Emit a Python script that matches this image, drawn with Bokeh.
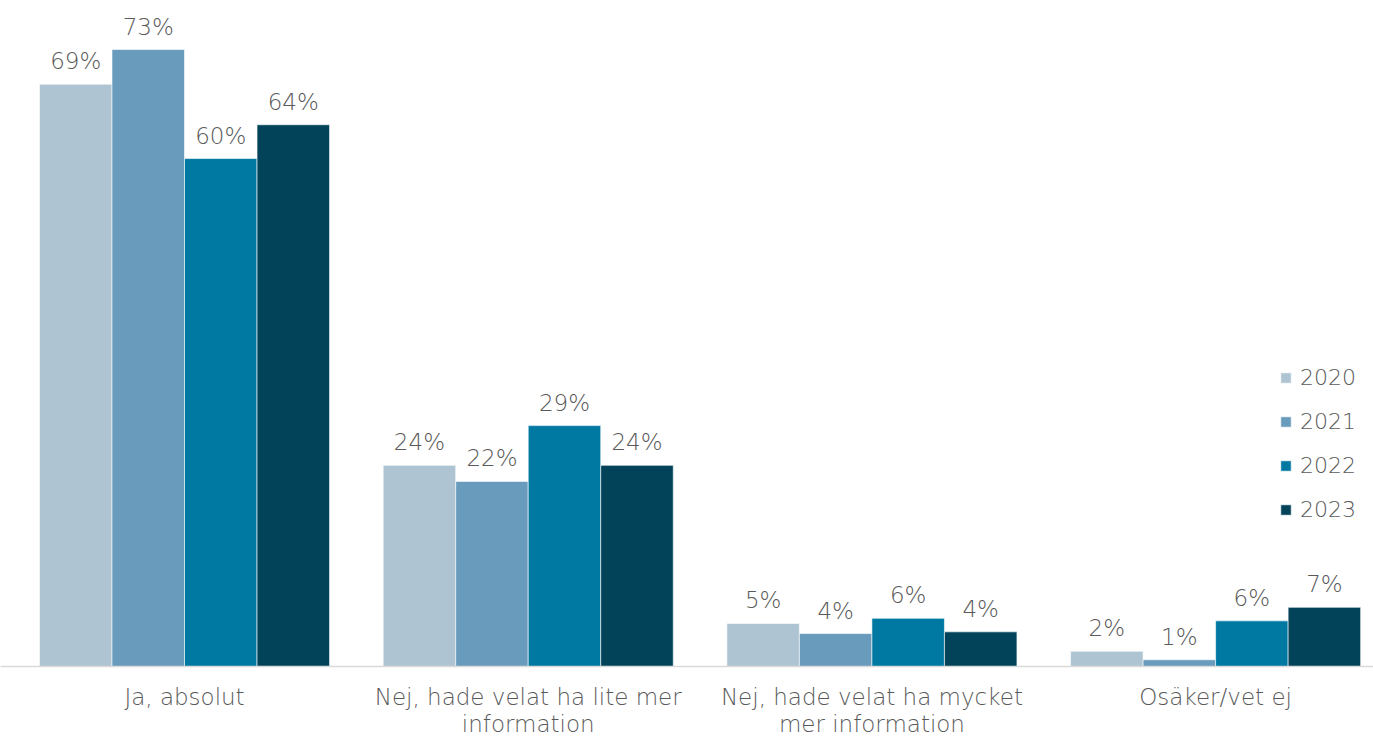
from bokeh.plotting import figure
from bokeh.models import ColumnDataSource, Range1d, FixedTicker, Legend, LegendItem
from bokeh.core.properties import value
from bokeh.embed import file_html
from bokeh.resources import INLINE

categories = ["Ja, absolut", "Nej, hade velat ha lite mer\ninformation",
              "Nej, hade velat ha mycket\nmer information", "Osäker/vet ej"]
years = ["2020", "2021", "2022", "2023"]
v2020 = [68.9, 23.8, 5.1, 1.8]
v2021 = [73.0, 21.9, 3.9, 0.8]
v2022 = [60.1, 28.5, 5.7, 5.4]
v2023 = [64.1, 23.8, 4.1, 7.0]
labels2020 = ["69%", "24%", "5%", "2%"]
labels2021 = ["73%", "22%", "4%", "1%"]
labels2022 = ["60%", "29%", "6%", "6%"]
labels2023 = ["64%", "24%", "4%", "7%"]
colors = ["#AEC4D3", "#699CBC", "#0079A2", "#02435A"]

series = [v2020, v2021, v2022, v2023]
labels = [labels2020, labels2021, labels2022, labels2023]

FONT = "'DejaVu Sans ExtraLight', 'DejaVu Sans Light', 'DejaVu Sans'"
TXT = "#595959"

p = figure(width=1373, height=740, output_backend="svg", toolbar_location=None,
           x_range=Range1d(-0.5354, 3.4594), y_range=Range1d(0, 78.8),
           min_border_left=0, min_border_right=0, min_border_top=0, min_border_bottom=74)
p.outline_line_color = None
p.xgrid.visible = False
p.ygrid.visible = False
p.yaxis.visible = False

bar_w = 0.211
offsets = [-1.5 * bar_w, -0.5 * bar_w, 0.5 * bar_w, 1.5 * bar_w]
xs = list(range(len(categories)))
items = []
for i, yr in enumerate(years):
    src = ColumnDataSource(dict(x=[x + offsets[i] for x in xs], top=series[i], lab=labels[i]))
    r = p.vbar(x="x", top="top", width=bar_w, source=src, fill_color=colors[i],
               line_color="white", line_width=0.6)
    p.text(x="x", y="top", text="lab", source=src, text_align="center", text_baseline="bottom",
           y_offset=-10, text_font=value(FONT), text_font_size="23px", text_color=TXT)
    items.append(LegendItem(label=yr, renderers=[r]))

legend = Legend(items=items, location=(1279, 144), glyph_width=13, glyph_height=13,
                label_height=26, spacing=18, padding=0, margin=0, label_standoff=8,
                label_text_font=FONT, label_text_font_size="22px", label_text_color=TXT,
                border_line_color=None, background_fill_alpha=0)
p.add_layout(legend)

p.xaxis.ticker = FixedTicker(ticks=xs)
p.xaxis.major_label_overrides = {i: c for i, c in enumerate(categories)}
p.xaxis.major_tick_line_color = None
p.xaxis.minor_tick_line_color = None
p.xaxis.axis_line_color = "#D9D9D9"
p.xaxis.axis_line_width = 1.5
p.xaxis.major_label_standoff = 11
p.xaxis.major_label_text_font = FONT
p.xaxis.major_label_text_font_size = "23px"
p.xaxis.major_label_text_line_height = 1.05
p.xaxis.major_label_text_color = TXT

open("out.html", "w").write(file_html(p, INLINE))
